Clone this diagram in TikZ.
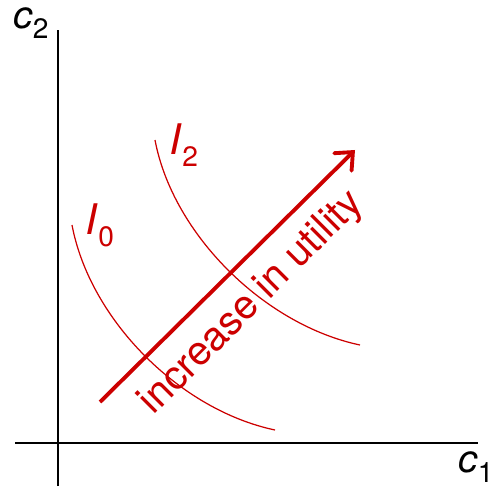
\documentclass[tikz,border=0pt]{standalone}
\usepackage{fontspec}
\setmainfont{TeX Gyre Heros}
\usetikzlibrary{arrows.meta}
\definecolor{utilred}{RGB}{204,0,0}
\newcommand{\subl}[1]{\raisebox{-0.28em}{\fontsize{16}{19}\selectfont #1}}
\begin{document}
\begin{tikzpicture}[font=\fontsize{22}{26}\selectfont,
  axis/.style={line width=0.7pt},
  indiff/.style={utilred, line width=0.7pt},
  uparrow/.style={utilred, line width=2.2pt, -{Straight Barb[length=8pt,width=14pt,line cap=round]}}]
  \useasboundingbox (0,0) rectangle (9.84,9.72);

  % axes
  \coordinate (ytop) at (1.16,9.12);
  \coordinate (ybot) at (1.16,0);
  \coordinate (xleft) at (0.3,0.86);
  \coordinate (xright) at (9.56,0.86);
  \draw[axis] (ybot) -- (ytop);
  \draw[axis] (xleft) -- (xright);
  \node (c2) at (0.62,9.26) {\textit{c}\subl{2}};
  \node (c1) at (9.52,0.38) {\textit{c}\subl{1}};

  % indifference curves
  \draw[indiff] (1.44,5.22) .. controls (1.8,3.32) and (3.6,1.52) .. (5.5,1.12);
  \draw[indiff] (3.1,6.92) .. controls (3.46,5.02) and (5.3,3.22) .. (7.2,2.82);
  \node[utilred, font=\fontsize{24}{28}\selectfont] (I0) at (2.0,5.22) {\textit{I}\subl{0}};
  \node[utilred, font=\fontsize{24}{28}\selectfont] (I2) at (3.68,6.82) {\textit{I}\subl{2}};

  % direction of higher utility
  \coordinate (low) at (2.0,1.68);
  \coordinate (high) at (7.1,6.72);
  \draw[uparrow] (low) -- (high);
  \node[utilred, rotate=45, font=\fontsize{23}{27}\selectfont] (lab) at (5.04,3.66) {increase in utility};
\end{tikzpicture}
\end{document}
